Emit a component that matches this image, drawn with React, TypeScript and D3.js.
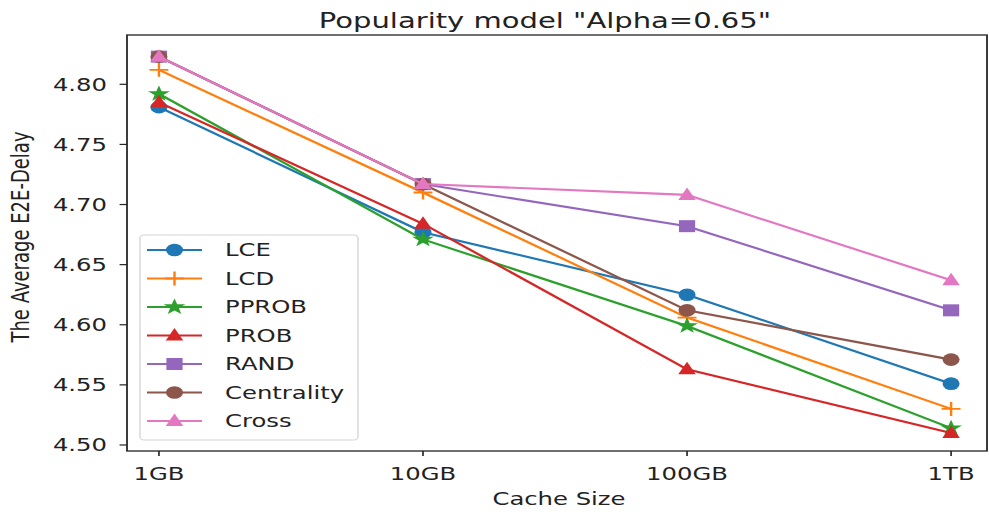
import React from 'react';
import * as d3 from 'd3';

const categories = ['1GB', '10GB', '100GB', '1TB'];
const yTicks = [4.5, 4.55, 4.6, 4.65, 4.7, 4.75, 4.8];
const seriesNames = ['LCE', 'LCD', 'PPROB', 'PROB', 'RAND', 'Centrality', 'Cross'];
const lce = [4.781, 4.677, 4.625, 4.551];
const lcd = [4.812, 4.710, 4.606, 4.530];
const pprob = [4.792, 4.671, 4.599, 4.514];
const prob = [4.785, 4.684, 4.563, 4.510];
const rand = [4.823, 4.717, 4.682, 4.612];
const centrality = [4.823, 4.717, 4.612, 4.571];
const cross = [4.823, 4.717, 4.708, 4.637];
const seriesValues = [lce, lcd, pprob, prob, rand, centrality, cross];
const colors = ['#1f77b4', '#ff7f0e', '#2ca02c', '#d62728', '#9467bd', '#8c564b', '#e377c2'];
const markerTypes = ['circle', 'plus', 'star', 'triangle', 'square', 'circle', 'triangle'];
const title = 'Popularity model "Alpha=0.65"';
const xLabel = 'Cache Size';
const yLabel = 'The Average E2E-Delay';

const W = 989;
const H = 512;
const S = 1.35; // horizontal stretch of the picture
const FONT = 'DejaVu Sans';

function starPath(R: number) {
  const r = R * 0.4;
  const pts: string[] = [];
  for (let i = 0; i < 10; i++) {
    const a = -Math.PI / 2 + (i * Math.PI) / 5;
    const rr = i % 2 === 0 ? R : r;
    pts.push(`${(Math.cos(a) * rr).toFixed(2)},${(Math.sin(a) * rr).toFixed(2)}`);
  }
  return 'M' + pts.join('L') + 'Z';
}

function Marker({ type, color, cx, cy }: { type: string; color: string; cx: number; cy: number }) {
  const t = `translate(${cx},${cy})`;
  if (type === 'circle') return <circle cx={cx} cy={cy} r={6.3} fill={color} />;
  if (type === 'square') return <rect x={cx - 6} y={cy - 6} width={12} height={12} fill={color} />;
  if (type === 'triangle') return <path transform={t} d="M0,-7.5L6.5,5L-6.5,5Z" fill={color} />;
  if (type === 'star') return <path transform={t} d={starPath(8.5)} fill={color} />;
  if (type === 'plus')
    return <path transform={t} d="M-7,0H7M0,-7V7" stroke={color} strokeWidth={1.8} fill="none" />;
  return null;
}

export default function App() {
  const x = d3.scaleLinear().domain([-0.121, 3.136]).range([127 / S, 987 / S]);
  const y = d3.scaleLinear().domain([4.495, 4.841]).range([451, 35]);
  const line = d3
    .line<number>()
    .x((_, i) => x(i))
    .y((d) => y(d));

  const [x0, x1] = x.range();
  const [yb, yt] = y.range();

  const legX0 = 140 / S;
  const legX1 = 358 / S;
  const legY0 = 235;
  const legY1 = 440;
  const legStep = 28.5;
  const legFirst = 250;

  return (
    <svg width={W} height={H} style={{ position: 'absolute', left: 0, top: 0, background: '#fff' }}>
      <rect width={W} height={H} fill="#fff" />
      <g transform={`scale(${S},1)`} fontFamily={FONT}>
        {/* title */}
        <text x={545 / S} y={28} textAnchor="middle" fontSize={21.5} fill="#222">
          {title}
        </text>
        {/* series */}
        {seriesValues.map((vals, si) => (
          <g key={seriesNames[si]}>
            <path d={line(vals) || ''} fill="none" stroke={colors[si]} strokeWidth={2.1} />
            {vals.map((v, i) => (
              <Marker key={i} type={markerTypes[si]} color={colors[si]} cx={x(i)} cy={y(v)} />
            ))}
          </g>
        ))}
        {/* frame */}
        <rect x={x0} y={yt} width={x1 - x0} height={yb - yt} fill="none" stroke="#222" strokeWidth={1.3} />
        {/* y ticks */}
        {yTicks.map((t) => (
          <g key={t}>
            <line x1={x0 - 5.5} x2={x0} y1={y(t)} y2={y(t)} stroke="#222" strokeWidth={1.2} />
            <text x={107 / S} y={y(t) + 6.5} textAnchor="end" fontSize={18} fill="#222">
              {t.toFixed(2)}
            </text>
          </g>
        ))}
        {/* x ticks */}
        {categories.map((c, i) => (
          <g key={c}>
            <line x1={x(i)} x2={x(i)} y1={yb} y2={yb + 5} stroke="#222" strokeWidth={1.2} />
            <text x={x(i)} y={480} textAnchor="middle" fontSize={18} fill="#222">
              {c}
            </text>
          </g>
        ))}
        {/* axis labels */}
        <text x={559 / S} y={505} textAnchor="middle" fontSize={18} fill="#222">
          {xLabel}
        </text>
        <text
          transform={`translate(${29 / S},237) rotate(-90)`}
          textAnchor="middle"
          fontSize={18}
          fill="#222"
        >
          {yLabel}
        </text>
        {/* legend */}
        <rect
          x={legX0}
          y={legY0}
          width={legX1 - legX0}
          height={legY1 - legY0}
          rx={3}
          fill="#fff"
          fillOpacity={0.8}
          stroke="#d5d5d5"
          strokeWidth={1}
        />
        {seriesNames.map((n, si) => {
          const ly = legFirst + si * legStep;
          return (
            <g key={n}>
              <line x1={147 / S} x2={202 / S} y1={ly} y2={ly} stroke={colors[si]} strokeWidth={2.1} />
              <Marker type={markerTypes[si]} color={colors[si]} cx={174.5 / S} cy={ly} />
              <text x={225 / S} y={ly + 6.5} fontSize={18} fill="#222">
                {n}
              </text>
            </g>
          );
        })}
      </g>
    </svg>
  );
}
